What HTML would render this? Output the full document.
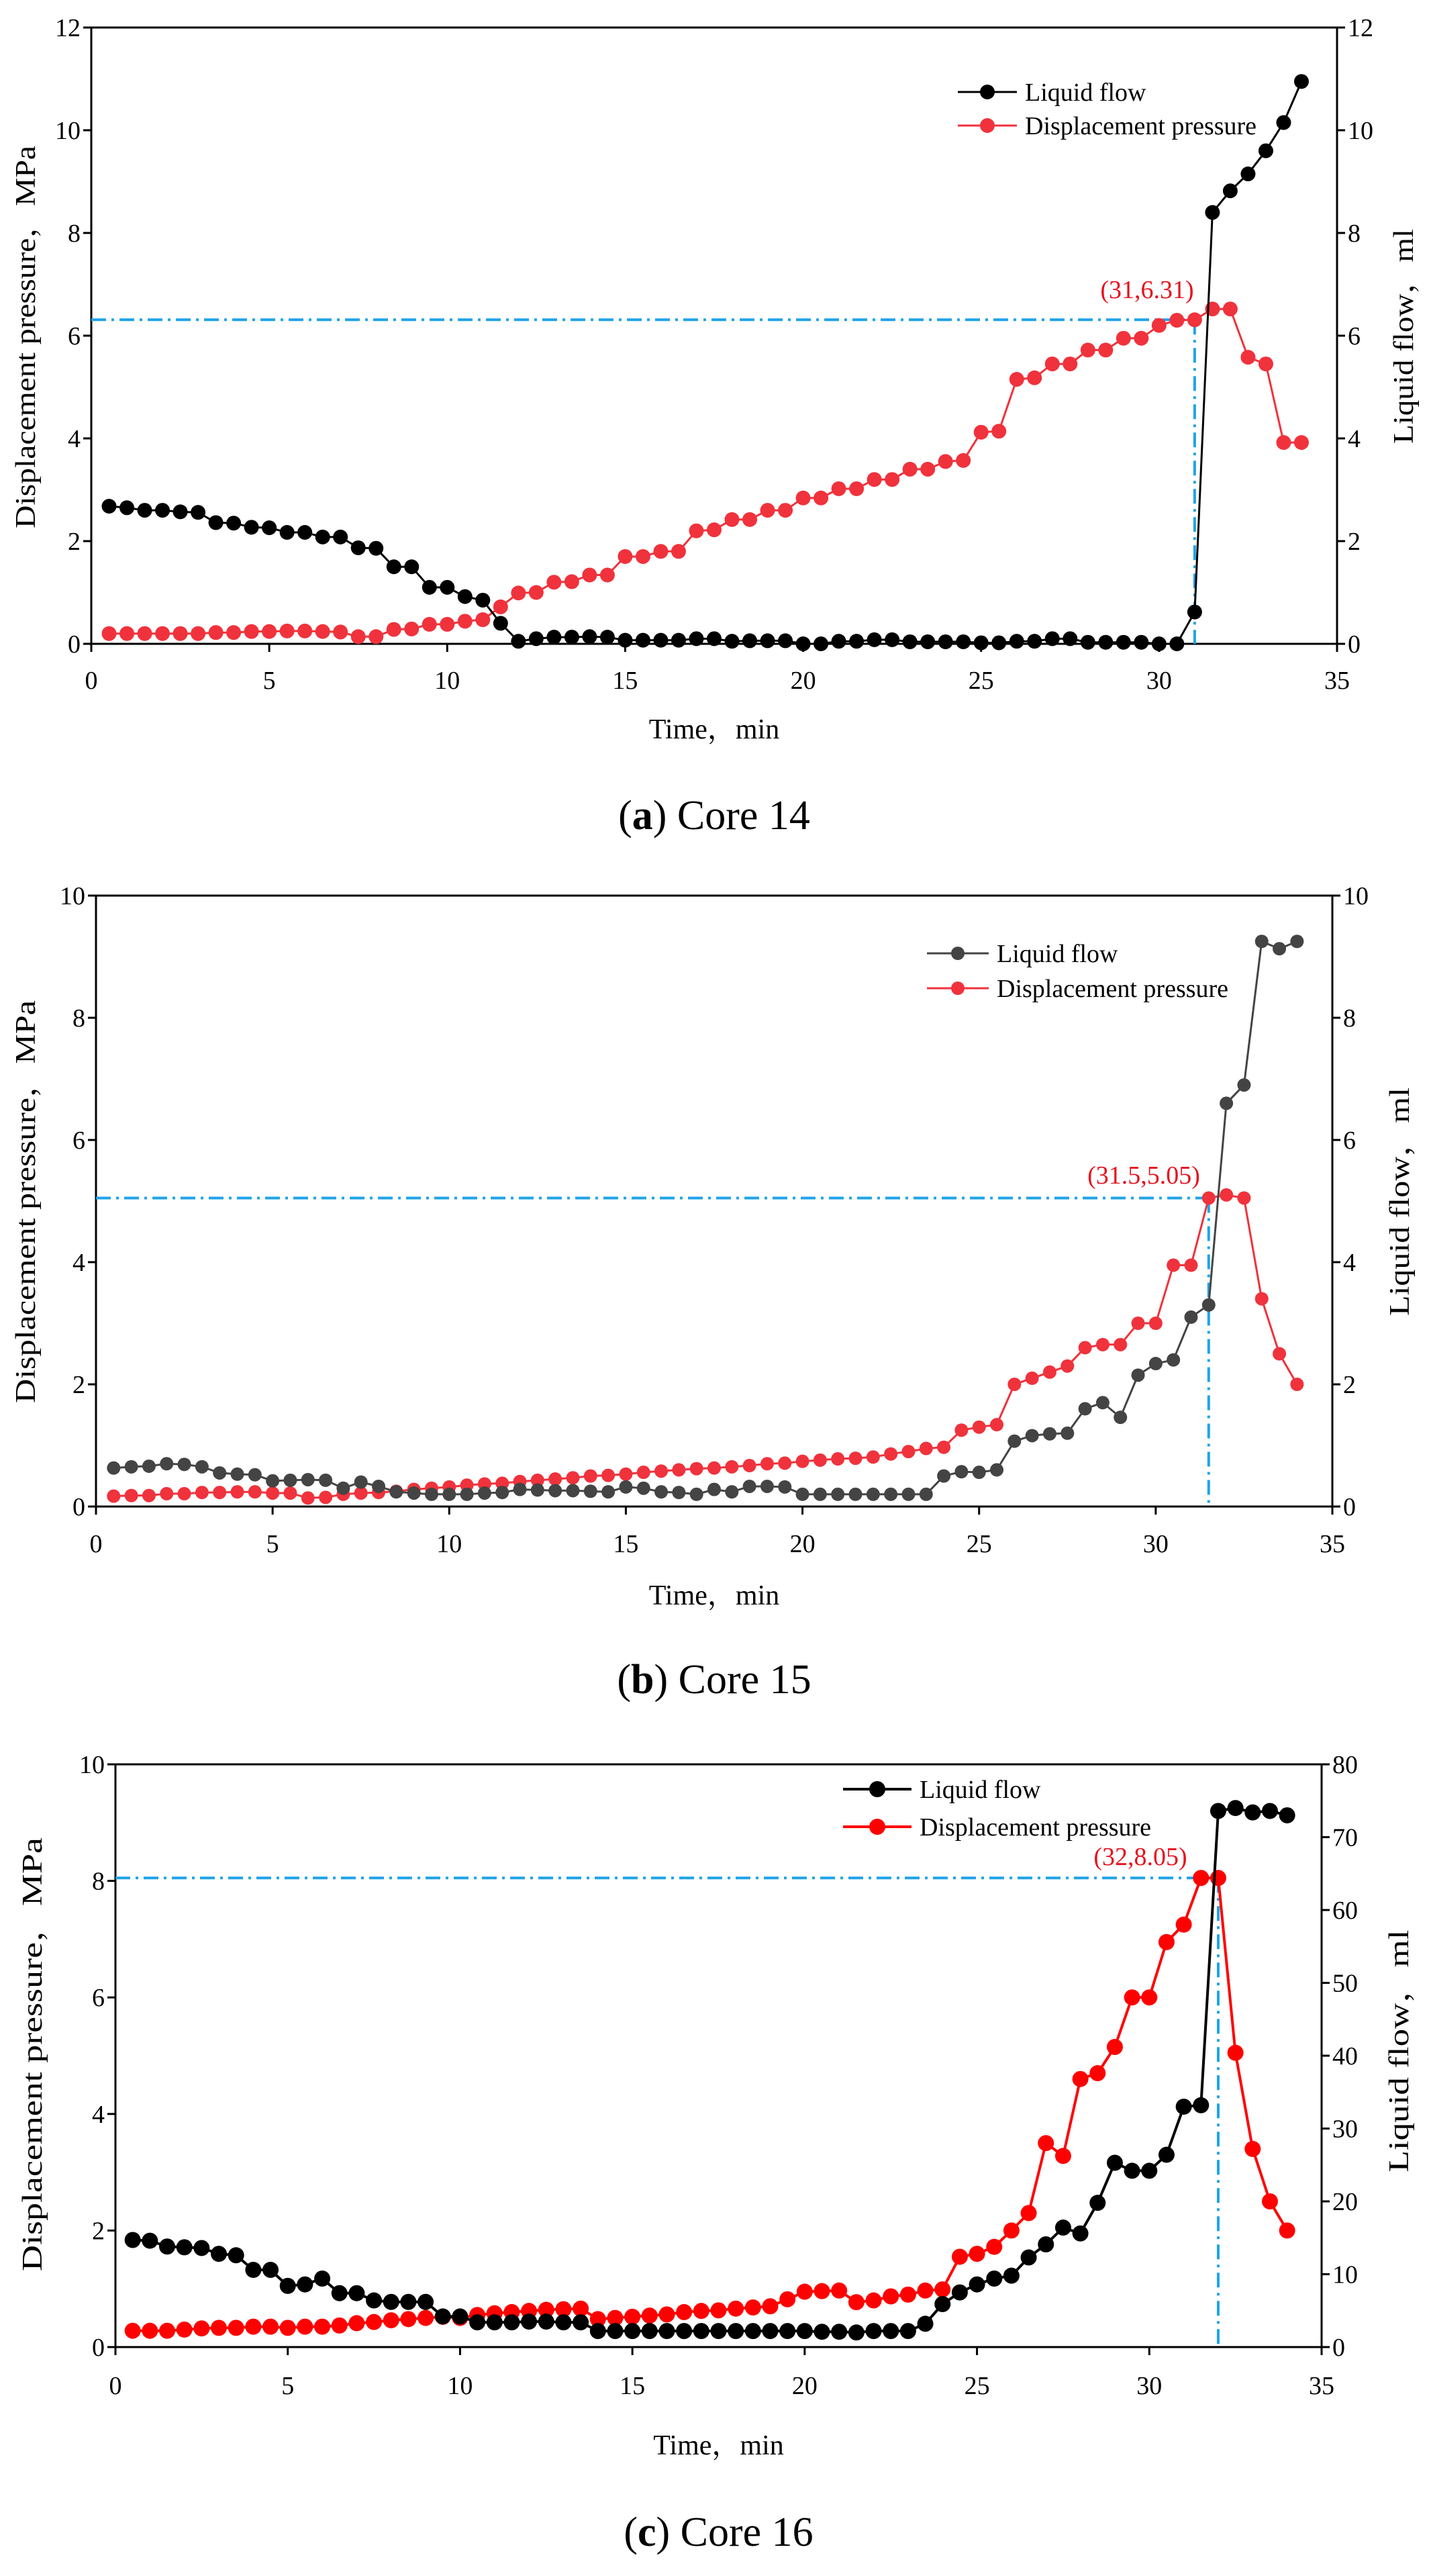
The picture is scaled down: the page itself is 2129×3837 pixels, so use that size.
<!DOCTYPE html>
<html><head><meta charset="utf-8">
<style>
html,body{margin:0;padding:0;background:#fff;}
svg{display:block;}
text{font-family:"Liberation Serif","Noto Serif CJK SC",serif;}
</style></head>
<body>
<svg id="fig" width="2129" height="3837" viewBox="0 0 2129 3837" xmlns="http://www.w3.org/2000/svg" font-family="'Liberation Serif', serif"></svg>
<script>
const times = [0.5,1,1.5,2,2.5,3,3.5,4,4.5,5,5.5,6,6.5,7,7.5,8,8.5,9,9.5,10,10.5,11,11.5,12,12.5,13,13.5,14,14.5,15,15.5,16,16.5,17,17.5,18,18.5,19,19.5,20,20.5,21,21.5,22,22.5,23,23.5,24,24.5,25,25.5,26,26.5,27,27.5,28,28.5,29,29.5,30,30.5,31,31.5,32,32.5,33,33.5,34];
const xTicks = [0,5,10,15,20,25,30,35];

const flowA = [2.68,2.65,2.6,2.6,2.57,2.56,2.36,2.35,2.27,2.26,2.17,2.17,2.08,2.08,1.87,1.86,1.5,1.5,1.1,1.1,0.92,0.85,0.4,0.05,0.1,0.13,0.13,0.14,0.13,0.07,0.07,0.07,0.07,0.1,0.1,0.05,0.06,0.06,0.06,0.0,0.0,0.05,0.05,0.08,0.08,0.04,0.04,0.04,0.04,0.02,0.02,0.05,0.05,0.1,0.1,0.03,0.03,0.03,0.03,0.0,0.0,0.62,8.4,8.82,9.15,9.6,10.15,10.95];
const pressA = [0.2,0.2,0.2,0.2,0.2,0.2,0.22,0.22,0.24,0.24,0.25,0.25,0.24,0.23,0.14,0.14,0.28,0.29,0.38,0.38,0.44,0.47,0.72,0.99,1.0,1.2,1.21,1.34,1.34,1.7,1.7,1.8,1.8,2.2,2.22,2.42,2.42,2.6,2.6,2.84,2.84,3.02,3.02,3.2,3.2,3.4,3.4,3.55,3.57,4.12,4.14,5.15,5.18,5.45,5.45,5.72,5.72,5.95,5.95,6.2,6.3,6.31,6.52,6.52,5.58,5.45,3.92,3.92];
const leftTicksA = [0,2,4,6,8,10,12];
const rightTicksA = [0,2,4,6,8,10,12];
const markA = [31,6.31];

const flowB = [0.63,0.65,0.66,0.7,0.69,0.65,0.55,0.53,0.52,0.42,0.43,0.44,0.43,0.3,0.4,0.33,0.24,0.22,0.2,0.2,0.2,0.22,0.23,0.28,0.27,0.26,0.26,0.25,0.24,0.32,0.3,0.24,0.23,0.2,0.28,0.24,0.33,0.33,0.32,0.2,0.2,0.2,0.2,0.2,0.2,0.2,0.2,0.5,0.57,0.56,0.6,1.07,1.16,1.19,1.2,1.6,1.7,1.46,2.15,2.34,2.4,3.1,3.3,6.6,6.9,9.25,9.13,9.25];
const pressB = [0.17,0.18,0.18,0.21,0.21,0.23,0.23,0.24,0.24,0.22,0.22,0.14,0.15,0.2,0.22,0.23,0.25,0.28,0.3,0.32,0.35,0.37,0.38,0.41,0.43,0.45,0.47,0.5,0.51,0.53,0.56,0.58,0.6,0.62,0.63,0.65,0.67,0.7,0.71,0.74,0.76,0.78,0.79,0.81,0.86,0.9,0.95,0.97,1.25,1.3,1.34,2.0,2.1,2.2,2.3,2.6,2.65,2.65,3.0,3.0,3.95,3.95,5.05,5.1,5.05,3.4,2.5,2.0];
const leftTicksB = [0,2,4,6,8,10];
const rightTicksB = [0,2,4,6,8,10];
const markB = [31.5,5.05];

const flowC = [14.7,14.6,13.8,13.7,13.6,12.8,12.6,10.6,10.6,8.4,8.6,9.4,7.4,7.4,6.4,6.2,6.2,6.2,4.2,4.2,3.4,3.4,3.4,3.5,3.5,3.4,3.4,2.2,2.2,2.2,2.2,2.2,2.2,2.2,2.2,2.2,2.2,2.2,2.2,2.2,2.1,2.1,2.0,2.2,2.2,2.2,3.2,5.9,7.5,8.6,9.4,9.8,12.3,14.1,16.4,15.6,19.8,25.3,24.2,24.2,26.4,33.0,33.2,73.6,74.0,73.4,73.6,73.0];
const pressC = [0.28,0.28,0.28,0.3,0.32,0.33,0.33,0.35,0.35,0.33,0.35,0.35,0.37,0.41,0.43,0.46,0.48,0.5,0.52,0.5,0.55,0.58,0.6,0.62,0.64,0.65,0.66,0.48,0.5,0.52,0.54,0.56,0.6,0.62,0.63,0.66,0.68,0.7,0.82,0.95,0.96,0.97,0.77,0.8,0.87,0.9,0.97,0.99,1.55,1.6,1.72,2.0,2.3,3.5,3.28,4.6,4.7,5.15,6.0,6.0,6.95,7.25,8.05,8.05,5.05,3.4,2.5,2.0];
const leftTicksC = [0,2,4,6,8,10];
const rightTicksC = [0,10,20,30,40,50,60,70,80];
const markC = [32,8.05];

const NS = 'http://www.w3.org/2000/svg';
const svg = document.getElementById('fig');
function mk(tag, attrs, parent){const e=document.createElementNS(NS,tag);for(const k in attrs)e.setAttribute(k,attrs[k]);(parent||svg).appendChild(e);return e;}

function drawChart(cfg){
  const g = mk('g',{});
  
  
  const L=cfg.L,R=cfg.R,T=cfg.T,B=cfg.B;
  const xS = v => L + (v-0)/(35-0)*(R-L);
  const yL = v => B - v/cfg.lMax*(B-T);
  const yR = v => B - v/cfg.rMax*(B-T);
  const frame = mk('rect',{x:L,y:T,width:R-L,height:B-T,fill:'none',stroke:'#000','stroke-width':3},g);
  
  
  xTicks.forEach(t=>{
    const x=xS(t);
    mk('line',{x1:x,y1:B,x2:x,y2:B+12,stroke:'#000','stroke-width':3},g);
    const tx=mk('text',{x:x,y:cfg.xLabY,'font-size':38,'text-anchor':'middle'},g);
    tx.textContent=t;
    
    
  });
  cfg.lt.forEach(t=>{
    const y=yL(t);
    mk('line',{x1:L-12,y1:y,x2:L,y2:y,stroke:'#000','stroke-width':3},g);
    const tx=mk('text',{x:L-16,y:y+13,'font-size':38,'text-anchor':'end'},g);
    tx.textContent=t;
    
    
  });
  cfg.rt.forEach(t=>{
    const y=yR(t);
    mk('line',{x1:R,y1:y,x2:R+12,y2:y,stroke:'#000','stroke-width':3},g);
    const tx=mk('text',{x:R+16,y:y+13,'font-size':38,'text-anchor':'start'},g);
    tx.textContent=t;
    
    
  });
  const mx=xS(cfg.mark[0]), my=yL(cfg.mark[1]);
  const gh=mk('line',{x1:L,y1:my,x2:mx,y2:my,stroke:'#1ea3ea','stroke-width':4,'stroke-dasharray':'22,8,4,8'},g);
  
  
  const gv=mk('line',{x1:mx,y1:my,x2:mx,y2:B,stroke:'#1ea3ea','stroke-width':4,'stroke-dasharray':'22,8,4,8'},g);
  
  
  function series(vals, scale, color, lw, r, nm){
    const pts = vals.map((v,i)=>xS(times[i]).toFixed(1)+','+scale(v).toFixed(1)).join(' ');
    const pl=mk('polyline',{points:pts,fill:'none',stroke:color,'stroke-width':lw},g);
    
    
    vals.forEach((v,i)=>{
      const c=mk('circle',{cx:xS(times[i]),cy:scale(v),r:r,fill:color},g);
      
      
    });
  }
  series(cfg.press, yL, cfg.pc, cfg.lw, cfg.r, 'pressure');
  series(cfg.flow, yR, cfg.fc, cfg.lw, cfg.r, 'liquid-flow');
  const an=mk('text',{x:cfg.annX,y:cfg.annY,'font-size':38,fill:'#e8101c','text-anchor':'middle'},g);
  an.textContent='('+cfg.mark[0]+','+cfg.mark[1]+')';
  
  
  const lg=mk('g',{},g);
  
  
  [[cfg.fc,'Liquid flow',cfg.legY1],[cfg.pc,'Displacement pressure',cfg.legY2]].forEach(([c,t,y])=>{
    mk('line',{x1:cfg.legX,y1:y,x2:cfg.legX+cfg.legW,y2:y,stroke:c,'stroke-width':cfg.lw},lg);
    mk('circle',{cx:cfg.legX+cfg.legW/2,cy:y,r:cfg.r,fill:c},lg);
    const tx=mk('text',{x:cfg.legX+cfg.legW+12,y:y+13,'font-size':38},lg);
    tx.textContent=t;
    
    
  });
  const xt=mk('text',{x:(L+R)/2,y:cfg.xTitY,'font-size':42,'text-anchor':'middle'},g);
  xt.textContent='Time，min';
  
  
  const lt=mk('text',{x:0,y:0,'font-size':42,'text-anchor':'middle',transform:'translate('+(cfg.lTitX)+','+cfg.lTitY+') rotate(-90)',textLength:cfg.lTitLen,lengthAdjust:'spacingAndGlyphs'},g);
  lt.textContent='Displacement pressure，MPa';
  
  
  const rtt=mk('text',{x:0,y:0,'font-size':42,'text-anchor':'middle',transform:'translate('+(cfg.rTitX)+','+cfg.rTitY+') rotate(-90)',textLength:cfg.rTitLen,lengthAdjust:'spacingAndGlyphs'},g);
  rtt.textContent='Liquid flow，ml';
  
  
  const cp=mk('text',{x:(L+R)/2,y:cfg.capY,'font-size':62,'text-anchor':'middle'},g);
  cp.innerHTML='(<tspan font-weight="bold">'+cfg.letter+'</tspan>) '+cfg.cap;
  
  
}

drawChart({name:'chart-core-14',L:136,R:1992,T:41,B:959,lMax:12,rMax:12,lt:leftTicksA,rt:rightTicksA,
  flow:flowA,press:pressA,mark:markA,fc:'#000',pc:'#f0323c',lw:3,r:11,
  xLabY:1026,xTitY:1100,capY:1235,annX:1709,annY:444,legX:1427,legW:88,legY1:137,legY2:187,
  lTitX:52,lTitY:502,lTitLen:570,rTitX:2105,rTitY:501,rTitLen:320,letter:'a',cap:'Core 14'});
drawChart({name:'chart-core-15',L:143,R:1985,T:1334,B:2244,lMax:10,rMax:10,lt:leftTicksB,rt:rightTicksB,
  flow:flowB,press:pressB,mark:markB,fc:'#444',pc:'#f0323c',lw:3,r:10,
  xLabY:2312,xTitY:2390,capY:2522,annX:1704,annY:1763,legX:1381,legW:92,legY1:1420,legY2:1472,
  lTitX:52,lTitY:1790,lTitLen:600,rTitX:2099,rTitY:1790,rTitLen:340,letter:'b',cap:'Core 15'});
drawChart({name:'chart-core-16',L:172,R:1969,T:2628,B:3496,lMax:10,rMax:80,lt:leftTicksC,rt:rightTicksC,
  flow:flowC,press:pressC,mark:markC,fc:'#000',pc:'#ff0000',lw:4,r:12,
  xLabY:3566,xTitY:3656,capY:3792,annX:1699,annY:2778,legX:1256,legW:102,legY1:2665,legY2:2721,
  lTitX:62,lTitY:3060,lTitLen:646,rTitX:2098,rTitY:3055,rTitLen:361,letter:'c',cap:'Core 16'});
</script>
</body></html>
